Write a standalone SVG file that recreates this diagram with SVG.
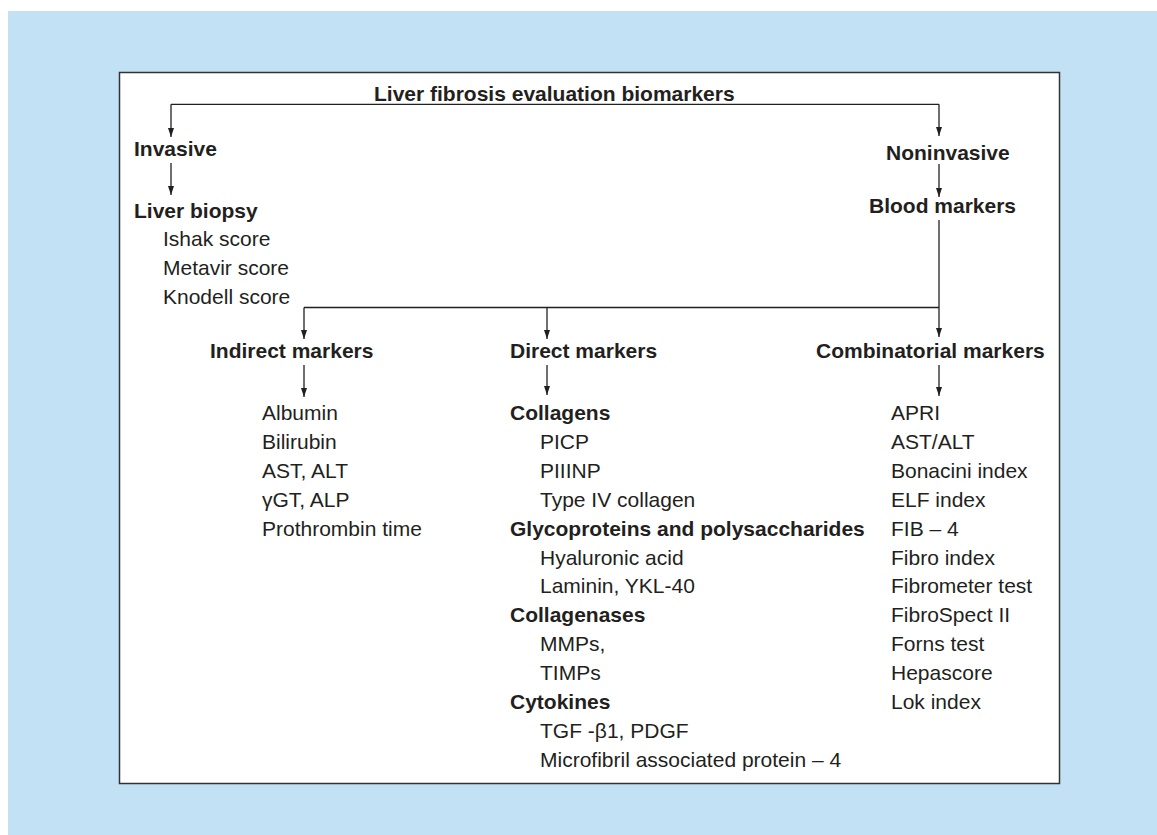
<svg xmlns="http://www.w3.org/2000/svg" width="1157" height="835" viewBox="0 0 1157 835">
<style>
text{font-family:"Liberation Sans",Arial,Helvetica,sans-serif;font-size:21px;fill:#231f20}
.b{font-weight:bold}
.ln{fill:none;stroke:#231f20;stroke-width:1.3}
</style>
<defs>
<marker id="ah" viewBox="0 0 9 6" refX="9" refY="3" markerWidth="9" markerHeight="6" markerUnits="userSpaceOnUse" orient="auto">
<path d="M0,0 L9,3 L0,6 z" fill="#231f20"/>
</marker>
</defs>
<rect x="8" y="11" width="1149" height="824" fill="#c2e1f5"/>
<rect x="119.5" y="72.5" width="940" height="711" fill="#ffffff" stroke="#333333" stroke-width="1.5"/>
<g id="connectors">
<path class="ln" d="M171,104.3 H939"/>
<path class="ln" d="M171,104.3 V137" marker-end="url(#ah)"/>
<path class="ln" d="M939,104.3 V136" marker-end="url(#ah)"/>
<path class="ln" d="M171,163 V195" marker-end="url(#ah)"/>
<path class="ln" d="M939,164 V197" marker-end="url(#ah)"/>
<path class="ln" d="M939,220 V337" marker-end="url(#ah)"/>
<path class="ln" d="M304,307.5 H939"/>
<path class="ln" d="M304,307.5 V339" marker-end="url(#ah)"/>
<path class="ln" d="M547,307.5 V339" marker-end="url(#ah)"/>
<path class="ln" d="M304,365 V397" marker-end="url(#ah)"/>
<path class="ln" d="M547,365 V395" marker-end="url(#ah)"/>
<path class="ln" d="M939,365 V396" marker-end="url(#ah)"/>
</g>
<g id="title"><text class="b" x="374" y="101">Liver fibrosis evaluation biomarkers</text></g>
<g id="invasive"><text class="b" x="134" y="156">Invasive</text></g>
<g id="liver-biopsy">
<text class="b" x="134" y="217.7">Liver biopsy</text>
<text x="163" y="246">Ishak score</text>
<text x="163" y="275">Metavir score</text>
<text x="163" y="303.5">Knodell score</text>
</g>
<g id="noninvasive"><text class="b" x="886" y="160">Noninvasive</text></g>
<g id="blood-markers"><text class="b" x="869" y="213">Blood markers</text></g>
<g id="indirect-markers"><text class="b" x="210" y="358.3">Indirect markers</text></g>
<g id="direct-markers"><text class="b" x="510" y="358.3">Direct markers</text></g>
<g id="combinatorial-markers"><text class="b" x="816" y="358.3">Combinatorial markers</text></g>
<g id="indirect-list">
<text x="262" y="420">Albumin</text>
<text x="262" y="448.9">Bilirubin</text>
<text x="262" y="477.8">AST, ALT</text>
<text x="262" y="506.7">γGT, ALP</text>
<text x="262" y="535.6">Prothrombin time</text>
</g>
<g id="direct-list">
<text class="b" x="510" y="420">Collagens</text>
<text x="540" y="448.9">PICP</text>
<text x="540" y="477.8">PIIINP</text>
<text x="540" y="506.7">Type IV collagen</text>
<text class="b" x="510" y="535.6">Glycoproteins and polysaccharides</text>
<text x="540" y="564.5">Hyaluronic acid</text>
<text x="540" y="593.4">Laminin, YKL-40</text>
<text class="b" x="510" y="622.3">Collagenases</text>
<text x="540" y="651.2">MMPs,</text>
<text x="540" y="680.1">TIMPs</text>
<text class="b" x="510" y="709">Cytokines</text>
<text x="540" y="737.9">TGF -β1, PDGF</text>
<text x="540" y="766.8">Microfibril associated protein – 4</text>
</g>
<g id="combinatorial-list">
<text x="891" y="420">APRI</text>
<text x="891" y="448.9">AST/ALT</text>
<text x="891" y="477.8">Bonacini index</text>
<text x="891" y="506.7">ELF index</text>
<text x="891" y="535.6">FIB – 4</text>
<text x="891" y="564.5">Fibro index</text>
<text x="891" y="593.4">Fibrometer test</text>
<text x="891" y="622.3">FibroSpect II</text>
<text x="891" y="651.2">Forns test</text>
<text x="891" y="680.1">Hepascore</text>
<text x="891" y="709">Lok index</text>
</g>
</svg>
